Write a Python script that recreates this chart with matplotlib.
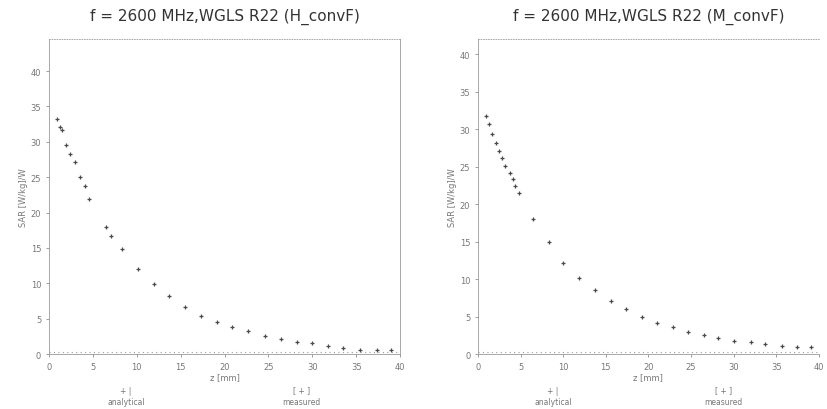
# SAR vs depth, two probe conversion factor plots
import numpy as np
import matplotlib.pyplot as plt

# left plot (H_convF) points
z_h = [0.9, 1.25, 1.45, 2.0, 2.4, 3.0, 3.5, 4.1, 4.6, 6.5, 7.1, 8.3, 10.2, 12.0, 13.7,
       15.5, 17.3, 19.1, 20.9, 22.7, 24.6, 26.4, 28.2, 29.9, 31.8, 33.5, 35.4, 37.3, 39.0]
sar_h = [33.2, 32.1, 31.6, 29.6, 28.3, 27.1, 25.0, 23.8, 21.9, 18.0, 16.7, 14.8, 12.0, 9.9, 8.2,
         6.7, 5.4, 4.5, 3.8, 3.2, 2.5, 2.1, 1.7, 1.5, 1.2, 0.9, 0.6, 0.6, 0.6]

# right plot (M_convF)
z_m = [0.9, 1.3, 1.6, 2.1, 2.5, 2.8, 3.2, 3.7, 4.1, 4.4, 4.8, 6.4, 8.3, 10.0, 11.9, 13.7,
       15.6, 17.4, 19.2, 21.0, 22.9, 24.7, 26.5, 28.2, 30.1, 32.0, 33.7, 35.7, 37.4, 39.1]
sar_m = [31.8, 30.7, 29.3, 28.2, 27.1, 26.1, 25.1, 24.2, 23.3, 22.4, 21.5, 18.0, 14.9, 12.2, 10.2, 8.5,
         7.1, 6.0, 4.9, 4.2, 3.6, 3.0, 2.5, 2.1, 1.8, 1.6, 1.3, 1.1, 1.0, 1.0]

titles = ['f = 2600 MHz,WGLS R22 (H_convF)', 'f = 2600 MHz,WGLS R22 (M_convF)']
x_label = 'z [mm]'
y_label = 'SAR [W/kg]/W'
legend_labels = ['analytical', 'measured']

fig = plt.figure(figsize=(8.27, 4.10), dpi=100)
grey = '#4a4a4a'
light = '#9a9a9a'

ax1 = fig.add_axes([0.059, 0.134, 0.425, 0.768])
ax2 = fig.add_axes([0.578, 0.134, 0.412, 0.768])

for ax, z, sar, title, ytop in [(ax1, z_h, sar_h, titles[0], 44.5), (ax2, z_m, sar_m, titles[1], 42)]:
    ax.plot(z, sar, linestyle='none', marker='+', markersize=3, color=grey, markeredgewidth=0.9)
    ax.axhline(0.3, color=light, linestyle=(0, (1, 3)), linewidth=0.8)
    ax.set_xlim(0, 40)
    ax.set_ylim(0, ytop)
    ax.set_xticks(np.arange(0, 41, 5))
    ax.set_yticks(np.arange(0, 41, 5))
    ax.tick_params(labelsize=6, colors='#777777', length=2, width=0.5)
    ax.set_xlabel(x_label, fontsize=6, color='#777777', labelpad=1)
    ax.set_ylabel(y_label, fontsize=6, color='#777777', labelpad=2)
    ax.set_title(title, fontsize=11, color='#333333', pad=14)
    ax.spines['top'].set_linestyle((0, (1, 2)))
    for s in ax.spines.values():
        s.set_color(light)
        s.set_linewidth(0.6)

ax2.spines['right'].set_visible(False)

# legend entries under each plot
for ax_left, ax_w in [(0.059, 0.425), (0.578, 0.412)]:
    for i, frac in enumerate([0.22, 0.72]):
        x = ax_left + ax_w * frac
        fig.text(x, 0.012, legend_labels[i], fontsize=5.5, color='#777777', ha='center')
        sym = '+ |' if i == 0 else '[ + ]'
        fig.text(x, 0.04, sym, fontsize=5.5, color='#777777', ha='center')

plt.savefig('out.png', dpi=100)
